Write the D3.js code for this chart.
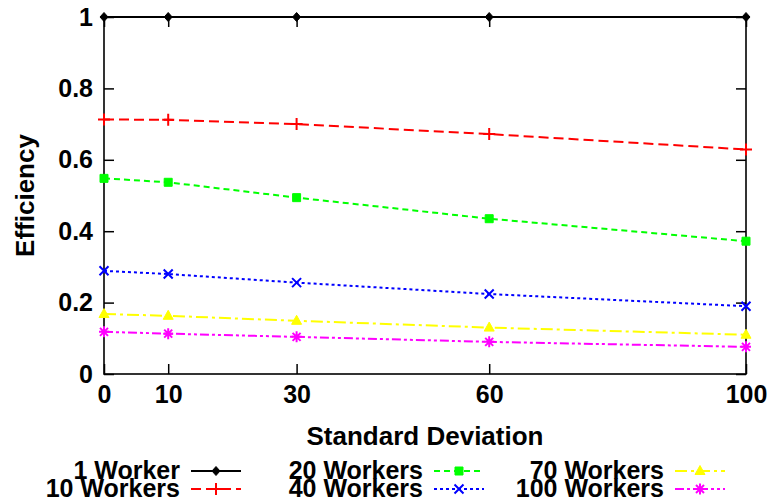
<!DOCTYPE html>
<meta charset="utf-8">
<script src="https://d3js.org/d3.v7.min.js" charset="utf-8"></script>
<style>
body { margin: 0; background: #fff; }
svg { display: block; font-family: "Liberation Sans", Arial, sans-serif; font-weight: bold; }
.tick text { font-size: 25px; }
.title { font-size: 26px; }
.key text { font-size: 25px; }
</style>
<div id="chart"></div>
<script>
// data
const stdDev = [0, 10, 30, 60, 100];
const xTicks = [0, 10, 30, 60, 100];
const yTicks = [0, 0.2, 0.4, 0.6, 0.8, 1];
const seriesNames = ["1 Worker", "10 Workers", "20 Workers", "40 Workers", "70 Workers", "100 Workers"];
const w1   = [1, 1, 1, 1, 1];
const w10  = [0.713, 0.712, 0.700, 0.672, 0.629];
const w20  = [0.548, 0.537, 0.494, 0.435, 0.372];
const w40  = [0.289, 0.280, 0.256, 0.224, 0.190];
const w70  = [0.168, 0.163, 0.149, 0.130, 0.110];
const w100 = [0.118, 0.113, 0.104, 0.090, 0.076];
const allValues = [w1, w10, w20, w40, w70, w100];

// styles, gnuplot-ish
const colors = ["#000000", "#ff0000", "#00ff00", "#0000ff", "#ffff00", "#ff00ff"];
const dashes = [null, "10,5", "6,4", "3,3", "12,4,3,4", "9,3,3,3,3,3"];
const markers = ["diamond", "plus", "square", "cross", "triangle", "star"];

const width = 772, height = 504;
const margin = {top: 17, right: 26, bottom: 130, left: 104};

const svg = d3.select("#chart").append("svg")
  .attr("width", width)
  .attr("height", height);

const x = d3.scaleLinear().domain([0, 100]).range([margin.left, width - margin.right]);
const y = d3.scaleLinear().domain([0, 1]).range([height - margin.bottom, margin.top]);

// axes with inward ticks, mirrored on top and right
const tickLen = 10;
svg.append("g")
  .attr("transform", `translate(0,${y(0)})`)
  .call(d3.axisBottom(x).tickValues(xTicks).tickFormat(d3.format("d")).tickSizeInner(-tickLen).tickSizeOuter(0).tickPadding(10))
  .call(g => g.select(".domain").remove())
  .call(g => g.selectAll(".tick text").attr("dy", "0.71em").attr("y", 11));

svg.append("g")
  .attr("transform", `translate(${x(0)},0)`)
  .call(d3.axisLeft(y).tickValues(yTicks).tickFormat(d => d === 0 || d === 1 ? d : d3.format(".1f")(d)).tickSizeInner(-tickLen).tickSizeOuter(0).tickPadding(11))
  .call(g => g.select(".domain").remove());

svg.append("g")
  .attr("transform", `translate(0,${y(1)})`)
  .call(d3.axisTop(x).tickValues(xTicks).tickFormat("").tickSizeInner(-tickLen).tickSizeOuter(0))
  .call(g => g.select(".domain").remove());

svg.append("g")
  .attr("transform", `translate(${x(100)},0)`)
  .call(d3.axisRight(y).tickValues(yTicks).tickFormat("").tickSizeInner(-tickLen).tickSizeOuter(0))
  .call(g => g.select(".domain").remove());

svg.selectAll(".tick line").attr("stroke", "#000").attr("stroke-width", 1.5);
svg.selectAll(".tick text").attr("fill", "#000");

// frame
svg.append("rect")
  .attr("x", x(0)).attr("y", y(1))
  .attr("width", x(100) - x(0)).attr("height", y(0) - y(1))
  .attr("fill", "none").attr("stroke", "#000").attr("stroke-width", 1.6);

// axis titles
svg.append("text").attr("class", "title")
  .attr("x", (x(0) + x(100)) / 2).attr("y", 445)
  .attr("text-anchor", "middle")
  .text("Standard Deviation");

svg.append("text").attr("class", "title")
  .attr("transform", `translate(34,${(y(0) + y(1)) / 2}) rotate(-90)`)
  .attr("text-anchor", "middle")
  .text("Efficiency");

// marker shapes
function markerPath(type) {
  switch (type) {
    case "diamond": return "M0,-4.5L4,0L0,4.5L-4,0Z";
    case "plus": return "M-6,0H6M0,-6V6";
    case "square": return "M-4,-4H4V4H-4Z";
    case "cross": return "M-4.5,-4.5L4.5,4.5M-4.5,4.5L4.5,-4.5";
    case "triangle": return "M0,-5.5L5,3.5H-5Z";
    case "star": return "M-5,0H5M0,-5.5V5.5M-4,-4L4,4M-4,4L4,-4";
  }
}
const filled = t => t === "diamond" || t === "square" || t === "triangle";

function drawMarker(g, type, color, px, py) {
  g.append("path")
    .attr("transform", `translate(${px},${py})`)
    .attr("d", markerPath(type))
    .attr("fill", filled(type) ? color : "none")
    .attr("stroke", color)
    .attr("stroke-width", filled(type) ? 1 : 2);
}

const line = d3.line()
  .x((d, i) => x(stdDev[i]))
  .y(d => y(d));

// series, last ones first so the black line sits on top
for (let s = allValues.length - 1; s >= 0; s--) {
  const g = svg.append("g");
  g.append("path")
    .attr("d", line(allValues[s]))
    .attr("fill", "none")
    .attr("stroke", colors[s])
    .attr("stroke-width", 2)
    .attr("stroke-dasharray", dashes[s]);
  allValues[s].forEach((v, i) => drawMarker(g, markers[s], colors[s], x(stdDev[i]), y(v)));
}

// legend: three columns of two rows, text right aligned before the sample line
const keyRight = [180, 423, 664];
const keyRowY = [471, 489];
seriesNames.forEach((name, s) => {
  const col = Math.floor(s / 2), row = s % 2;
  const g = svg.append("g").attr("class", "key");
  const tx = keyRight[col], ly = keyRowY[row];
  g.append("text")
    .attr("x", tx).attr("y", ly + 8)
    .attr("text-anchor", "end")
    .text(name);
  g.append("line")
    .attr("x1", tx + 11).attr("x2", tx + 61)
    .attr("y1", ly).attr("y2", ly)
    .attr("stroke", colors[s])
    .attr("stroke-width", 2)
    .attr("stroke-dasharray", dashes[s]);
  drawMarker(g, markers[s], colors[s], tx + 36, ly);
});
</script>
